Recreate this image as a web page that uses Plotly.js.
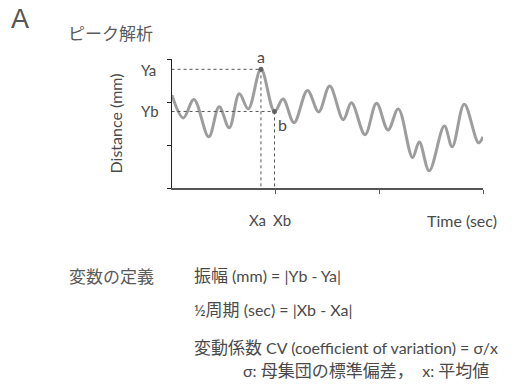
<!DOCTYPE html>
<html>
<head>
<meta charset="utf-8">
<script src="https://cdn.plot.ly/plotly-3.0.1.min.js"></script>
<style>
html,body{margin:0;padding:0;background:#fff;}
#chart{width:530px;height:391px;}
</style>
</head>
<body>
<div id="chart"></div>
<script>
// ---- data ----
const timeSec = [0, 1.09, 2.12, 3.54, 4.55, 5.52, 6.49, 7.36, 8.58, 9.89, 10.71, 11.77, 13.07, 14.15, 15.21, 16.52, 17.31, 18.62, 19.73, 20.84, 21.83, 23.2, 23.85, 24.81, 26.27, 27.03, 28.19, 29.57, 30];
const distanceMm = [2.16, 1.63, 2.06, 1.19, 1.89, 1.40, 2.19, 1.84, 2.76, 1.78, 2.07, 1.52, 2.27, 1.77, 2.37, 1.59, 1.98, 1.24, 1.97, 1.35, 1.84, 0.71, 1.07, 0.40, 1.44, 0.96, 1.95, 1.05, 1.19];
const peakIndex = 8;     // point a
const troughIndex = 9;   // point b
const pointLabels = ["a", "b"];
const yTickVals = [0, 1, 2, 3];
const xTickVals = [10, 20, 30];

const xa = timeSec[peakIndex], ya = distanceMm[peakIndex];
const xb = timeSec[troughIndex], yb = distanceMm[troughIndex];

// plot area in pixels
const L = 172, R = 483, T = 59, B = 188;
function P(px, py){ return {x:(px-L)/(R-L), y:(B-py)/(B-T)}; }

const FONT = "Lato, 'Noto Sans CJK JP', sans-serif";
const JP = "'Noto Sans CJK JP', Lato, sans-serif";
const TXT = "#4a4a4a";
function jp(s){ return '<span style="font-size:17px">' + s + '</span>'; }

const traces = [
  {x: timeSec, y: distanceMm, mode: "lines", type: "scatter",
   line: {color: "#9d9d9d", width: 3, shape: "spline", smoothing: 1}, hoverinfo: "skip"},
  {x: [xa, xb], y: [ya, yb], mode: "markers", type: "scatter",
   marker: {color: "#666", size: 5}, hoverinfo: "skip"}
];

const dash = {color: "#555", width: 1, dash: "dot"};
const shapes = [
  {type: "line", xref: "x", yref: "y", x0: -1.2, x1: xa, y0: ya, y1: ya, line: dash},
  {type: "line", xref: "x", yref: "y", x0: -1.2, x1: xb, y0: yb, y1: yb, line: dash},
  {type: "line", xref: "x", yref: "y", x0: xa, x1: xa, y0: ya, y1: -0.5, line: dash},
  {type: "line", xref: "x", yref: "y", x0: xb, x1: xb, y0: yb, y1: -0.5, line: dash}
];

function ann(text, px, py, opts){
  const p = P(px, py);
  return Object.assign({text: text, xref: "paper", yref: "paper", x: p.x, y: p.y,
    xanchor: "left", yanchor: "middle", showarrow: false,
    font: {family: FONT, size: 16, color: TXT}}, opts || {});
}

const annotations = [
  ann("A", 9, 19, {font: {family: "'Liberation Sans', sans-serif", size: 27, color: "#555"}}),
  ann("ピーク解析", 66, 32, {font: {family: JP, size: 17, color: "#5a5a5a"}}),
  ann("Ya", 139, 70, {font: {family: FONT, size: 15, color: TXT}}),
  ann("Yb", 139, 111, {font: {family: FONT, size: 15, color: TXT}}),
  {text: pointLabels[0], xref: "x", yref: "y", x: xa, y: ya, xanchor: "center", yanchor: "bottom",
   yshift: 1, showarrow: false, font: {family: FONT, size: 16, color: TXT}},
  {text: pointLabels[1], xref: "x", yref: "y", x: xb, y: yb, xanchor: "left", yanchor: "top",
   xshift: 1, yshift: -2, showarrow: false, font: {family: FONT, size: 16, color: TXT}},
  {text: "Xa", xref: "x", yref: "paper", x: xa, y: P(0, 220).y, xanchor: "center", yanchor: "middle",
   xshift: -3, showarrow: false, font: {family: FONT, size: 15, color: TXT}},
  {text: "Xb", xref: "x", yref: "paper", x: xb, y: P(0, 220).y, xanchor: "center", yanchor: "middle",
   xshift: 7, showarrow: false, font: {family: FONT, size: 15, color: TXT}},
  ann("Time (sec)", 425, 220, {font: {family: FONT, size: 16, color: TXT}}),
  ann("変数の定義", 67, 275, {font: {family: JP, size: 17, color: "#5a5a5a"}}),
  ann(jp("振幅") + " (mm) = |Yb - Ya|", 192, 275),
  ann("½" + jp("周期") + " (sec) = |Xb - Xa|", 192, 309),
  ann(jp("変動係数") + " CV (coefficient of variation) = σ/x", 192, 347),
  ann("σ: " + jp("母集団の標準偏差，　") + "x: " + jp("平均値"), 241, 370)
];

const layout = {
  width: 530, height: 391,
  margin: {l: L, r: 530 - R, t: T, b: 391 - B},
  paper_bgcolor: "#fff", plot_bgcolor: "#fff",
  showlegend: false,
  xaxis: {range: [0, 30], showgrid: false, zeroline: false, showline: true,
          linecolor: "#555", linewidth: 1.5, ticks: "outside", ticklen: 4, tickcolor: "#555",
          tickvals: xTickVals, showticklabels: false, fixedrange: true},
  yaxis: {range: [0, 3], showgrid: false, zeroline: false, showline: true,
          linecolor: "#222", linewidth: 1.5, ticks: "outside", ticklen: 4, tickcolor: "#222",
          tickvals: yTickVals, showticklabels: false, fixedrange: true,
          title: {text: "Distance (mm)", standoff: 40, font: {family: FONT, size: 16, color: TXT}}},
  shapes: shapes,
  annotations: annotations
};

Plotly.newPlot("chart", traces, layout, {staticPlot: true, displayModeBar: false});
</script>
</body>
</html>
